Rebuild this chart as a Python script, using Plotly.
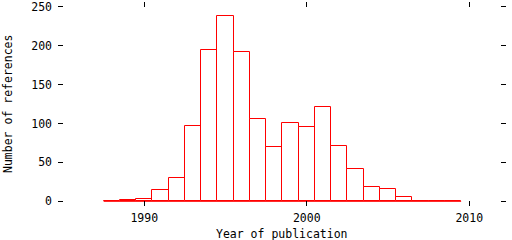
import plotly.graph_objects as go

years = list(range(1988, 2010))
counts = [0, 2, 3, 14, 30, 97, 195, 238, 192, 106, 70, 101, 95, 121, 71, 41, 19, 16, 6, 0, 1, 0]
x_ticks = [1990, 2000, 2010]
y_ticks = [0, 50, 100, 150, 200, 250]
x_title = "Year of publication"
y_title = "Number of references"

FONT = "DejaVu Sans Mono"

fig = go.Figure()
# baseline spanning all histogram bins
fig.add_trace(go.Scatter(
    x=[years[0] - 0.5, years[-1] + 0.5], y=[0, 0], mode="lines",
    line=dict(color="#ff0000", width=1), hoverinfo="skip", showlegend=False))
fig.add_trace(go.Bar(
    x=years, y=counts, width=1,
    marker=dict(color="white", line=dict(color="#ff0000", width=1)),
    showlegend=False))

fig.update_layout(
    width=512, height=240,
    margin=dict(l=58, r=6, t=0, b=34),
    paper_bgcolor="white", plot_bgcolor="white",
    font=dict(family=FONT, size=11.5, color="black"),
    bargap=0,
    xaxis=dict(range=[1984.69, 2012.26], tickvals=x_ticks, ticks="inside",
               ticklen=5, tickwidth=1, tickcolor="black", mirror="ticks",
               showline=False, showgrid=False, zeroline=False,
               ticklabelstandoff=3, ticklabeloverflow="allow"),
    yaxis=dict(range=[-6, 256], tickvals=y_ticks, ticks="inside",
               ticklen=5, tickwidth=1, tickcolor="black", mirror="ticks",
               showline=False, showgrid=False, zeroline=False,
               ticklabelstandoff=5, ticklabeloverflow="allow"),
    annotations=[
        dict(text=x_title, xref="paper", yref="paper", x=0.5, y=0,
             yshift=-28, xanchor="center", yanchor="middle", showarrow=False),
        dict(text=y_title, xref="paper", yref="paper", x=0, y=0.5,
             xshift=-50, xanchor="center", yanchor="middle", textangle=-90,
             showarrow=False),
    ],
)

fig.write_html("out.html")
